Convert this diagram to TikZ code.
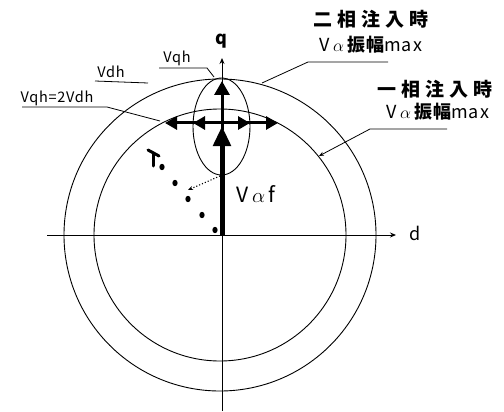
\documentclass[tikz,border=0pt]{standalone}
\usepackage{fontspec}
\setmainfont{Noto Sans CJK JP}
\usetikzlibrary{arrows.meta}
\begin{document}
\begin{tikzpicture}[x=1pt,y=-1pt,
  thinline/.style={line width=0.9pt},
  lead/.style={line width=0.8pt},
  lbl/.style={inner sep=0pt, font=\fontsize{14.5}{14.5}\selectfont\addfontfeatures{LetterSpace=5}},
  jp/.style={inner sep=0pt, font=\fontsize{19}{19}\selectfont\bfseries\addfontfeatures{LetterSpace=26}},
  jpv/.style={inner sep=0pt, font=\fontsize{18}{18}\selectfont\addfontfeatures{LetterSpace=6}},
  fat/.style={line width=3pt},
  head/.style={-{Triangle[length=12pt,width=13pt]}},
]
\useasboundingbox (0,0) rectangle (504,412);

% coordinates
\coordinate (O) at (222,235);
\coordinate (C) at (220,235);
\coordinate (xl) at (47,235);
\coordinate (xr) at (396,235);
\coordinate (yb) at (222,411);
\coordinate (yt) at (222,58);
\coordinate (E) at (222,126);
\coordinate (X) at (222,123);

% circles and ellipse
\draw[thinline] (C) circle[x radius=156pt, y radius=156pt];
\draw[thinline] (C) circle[x radius=126pt, y radius=126pt];
\draw[thinline] (221.5,126.5) ellipse[x radius=28.5pt, y radius=48.5pt];

% axes
\draw[thinline,-{Stealth[length=6pt,width=5pt]}] (xl) -- (xr);
\draw[thinline,-{Stealth[length=6pt,width=5pt]}] (yb) -- (yt);
\node[inner sep=0pt, font=\fontsize{18}{18}\selectfont] (d) at (415,233) {d};
\node[inner sep=0pt, font=\fontsize{18}{18}\selectfont\bfseries] (q) at (221,41) {q};

% V alpha f arrow
\draw[line width=5pt,-{Triangle[length=20pt,width=17pt]}] (O) -- (E);
\node[inner sep=0pt, font=\fontsize{21}{21}\selectfont] (vaf) at (256,194) {V\,$\alpha$\,f};

% cross arrows
\coordinate (top) at (222,81);
\coordinate (ll) at (165,123);
\coordinate (ls) at (193,123);
\coordinate (rs) at (250,123);
\coordinate (rl) at (278,123);
\draw[fat,-{Triangle[length=14pt,width=15pt]}] (222,130) -- (top);
\draw[fat,head] (X) -- (ll);
\draw[fat,head] (X) -- (rl);
\draw[fat,head] (X) -- (ls);
\draw[fat,head] (X) -- (rs);

% dotted rotation hints
\foreach \p in {(215,230),(202,215),(188,199),(175,183)}
  \fill \p ellipse[x radius=2.6pt, y radius=3.2pt];
\draw[line width=3pt, line cap=round] (148,150) -- (159,156);
\draw[line width=3pt, line cap=round] (153,153) -- (153,166);
\fill (162,167) ellipse[x radius=2.6pt, y radius=3.2pt];
\coordinate (eb) at (220,176);
\coordinate (dh) at (188,190);
\draw[line width=1.1pt, dotted, -{Stealth[length=5pt,width=4pt]}] (eb) -- (dh);

% left labels
\node[lbl] (Vqh) at (177,58) {Vqh};
\coordinate (Vqh1) at (159,68);
\coordinate (Vqh2) at (207,68);
\coordinate (Vqh3) at (214,77);
\draw[lead] (Vqh1) -- (Vqh2) -- (Vqh3);

\node[lbl] (Vdh) at (111,72) {Vdh};
\coordinate (Vdh1) at (95,81);
\coordinate (Vdh2) at (148,83);
\draw[lead] (Vdh1) -- (Vdh2);

\node[lbl] (Vqd) at (57,98) {Vqh=2Vdh};
\coordinate (Vqd1) at (22,107);
\coordinate (Vqd2) at (107,107);
\coordinate (Vqd3) at (160,121);
\draw[lead] (Vqd1) -- (Vqd2) -- (Vqd3);

% right labels
\node[jp] (two) at (371,19) {二相注入時};
\node[jpv] (two2) at (371,45) {V\,$\alpha$\,{\bfseries 振幅}max};
\coordinate (t1) at (388,62);
\coordinate (t2) at (308,62);
\coordinate (t3) at (262,83);
\draw[lead] (t1) -- (t2) -- (t3);

\node[jp] (one) at (435,89) {一相注入時};
\node[jpv] (one2) at (438,112) {V\,$\alpha$\,{\bfseries 振幅}max};
\coordinate (o1) at (447,129);
\coordinate (o2) at (370,129);
\coordinate (o3) at (319,156);
\draw[lead,-{Stealth[length=5pt,width=4pt]}] (o1) -- (o2) -- (o3);
\end{tikzpicture}
\end{document}
